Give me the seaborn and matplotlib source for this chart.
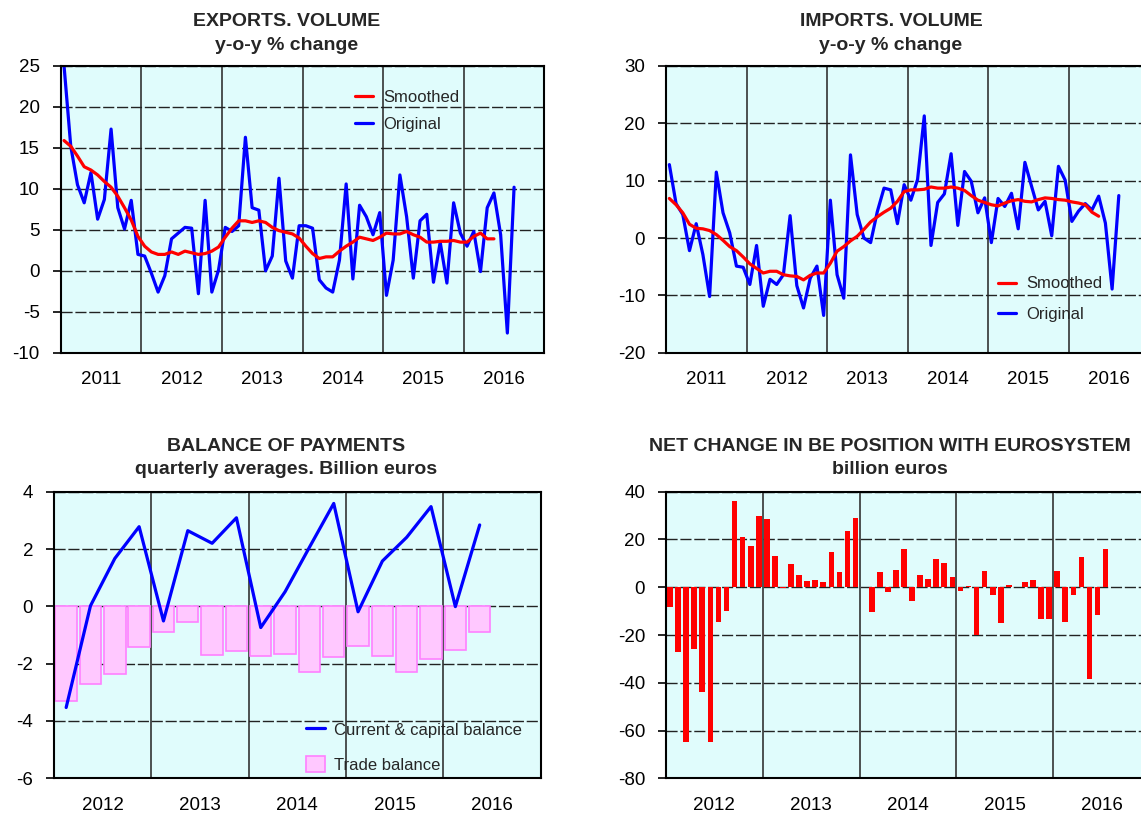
import numpy as np
import pandas as pd
import matplotlib
matplotlib.use("Agg")
import matplotlib.pyplot as plt
import seaborn as sns
from matplotlib.ticker import FixedLocator

# ---------------- data ----------------
exp_original = [25.0, 15.2, 10.5, 8.3, 12.0, 6.3, 8.7, 17.3, 7.7, 5.1, 8.6, 2.0,
                1.8, -0.3, -2.6, -0.6, 3.9, 4.6, 5.3, 5.2, -2.8, 8.6, -2.6, 0.1,
                5.3, 4.8, 5.5, 16.3, 7.7, 7.4, 0.0, 1.8, 11.3, 1.2, -0.9, 5.5,
                5.5, 5.2, -1.1, -2.1, -2.6, 1.3, 10.6, -1.0, 8.0, 6.6, 4.4, 7.1,
                -3.0, 1.3, 11.7, 6.6, -0.9, 6.1, 6.9, -1.4, 3.5, -1.5, 8.3, 4.6,
                3.0, 4.8, -0.1, 7.7, 9.5, 4.4, -7.6, 10.2]
exp_smoothed = [15.9, 15.2, 14.0, 12.7, 12.3, 11.7, 10.9, 10.2, 9.1, 7.7, 6.2, 4.2,
                3.0, 2.3, 2.0, 2.0, 2.3, 2.0, 2.4, 2.2, 2.0, 2.1, 2.4, 2.9,
                4.1, 5.2, 6.1, 6.1, 5.9, 6.1, 5.9, 5.3, 4.9, 4.7, 4.5, 4.0,
                3.0, 2.1, 1.5, 1.7, 1.7, 2.4, 3.0, 3.5, 4.1, 3.9, 3.7, 4.1,
                4.6, 4.5, 4.5, 4.8, 4.4, 4.1, 3.5, 3.5, 3.6, 3.6, 3.7, 3.5,
                3.5, 4.2, 4.6, 3.9, 3.9]
imp_original = [12.8, 6.0, 4.1, -2.2, 2.5, -2.9, -10.2, 11.5, 4.4, 0.9, -4.9, -5.1,
                -8.1, -1.3, -11.9, -7.2, -8.1, -6.4, 3.9, -8.3, -12.2, -7.0, -4.9, -13.5,
                6.6, -6.4, -10.5, 14.5, 4.1, 0.0, -0.8, 4.6, 8.7, 8.4, 2.5, 9.3,
                6.6, 10.2, 21.3, -1.3, 6.2, 7.7, 14.7, 2.2, 11.6, 9.9, 4.4, 7.0,
                -0.8, 6.9, 5.5, 7.8, 1.6, 13.2, 9.0, 4.9, 6.4, 0.4, 12.5, 10.1,
                2.9, 4.7, 6.0, 4.9, 7.3, 2.6, -8.9, 7.4]
imp_smoothed = [6.9, 5.8, 4.4, 2.4, 1.7, 1.6, 1.3, 0.6, -0.4, -1.5, -2.2, -3.3,
                -4.5, -5.3, -6.1, -5.8, -5.8, -6.4, -6.6, -6.7, -7.3, -6.5, -6.1, -6.1,
                -4.4, -2.3, -1.5, -0.5, 0.3, 1.5, 2.8, 3.7, 4.5, 5.2, 6.4, 8.1,
                8.4, 8.4, 8.5, 8.9, 8.7, 8.7, 8.9, 8.7, 8.3, 7.4, 6.6, 6.2,
                5.8, 5.6, 6.1, 6.5, 6.7, 6.4, 6.3, 6.7, 7.0, 6.9, 6.7, 6.6,
                6.3, 6.1, 5.8, 4.5, 3.8]
bop_current_capital = [-3.53, 0.02, 1.67, 2.78, -0.51, 2.64, 2.20, 3.09, -0.74,
                       0.51, 2.06, 3.59, -0.19, 1.58, 2.41, 3.48, -0.01, 2.84]
bop_trade = [-3.30, -2.72, -2.35, -1.43, -0.88, -0.55, -1.71, -1.57, -1.74,
             -1.67, -2.30, -1.76, -1.40, -1.74, -2.30, -1.85, -1.53, -0.90]
be_net_change = [-8.1, -27.3, -64.9, -25.8, -43.7, -65.0, -14.7, -9.9, 35.9, 21.1, 17.2, 29.7,
                 28.5, 13.1, -0.4, 9.9, 5.3, 2.5, 2.9, 2.0, 14.7, 6.3, 23.4, 28.9,
                 0.0, -10.2, 6.3, -2.2, 7.3, 15.9, -5.6, 5.3, 3.6, 11.9, 10.2, 4.2,
                 -1.4, 0.6, -20.2, 6.8, -3.2, -14.8, 1.1, 0.2, 2.0, 2.9, -13.5, -13.1,
                 6.7, -14.4, -3.1, 12.8, -38.5, -11.7, 15.9]

years_top = [2011, 2012, 2013, 2014, 2015, 2016]
years_bottom = [2012, 2013, 2014, 2015, 2016]
exp_ticks = [-10, -5, 0, 5, 10, 15, 20, 25]
imp_ticks = [-20, -10, 0, 10, 20, 30]
bop_ticks = [-6, -4, -2, 0, 2, 4]
be_ticks = [-80, -60, -40, -20, 0, 20, 40]


def month_x(start, n):
    return [start + (i + 0.5) / 12 for i in range(n)]


def quarter_x(start, n):
    return [start + (i + 0.5) / 4 for i in range(n)]


# ---------------- style ----------------
sns.set_style("white")
plt.rcParams['font.family'] = ['Liberation Sans', 'DejaVu Sans']
plt.rcParams['axes.unicode_minus'] = False

BG = '#E0FCFC'
BLUE = '#0000FF'
RED = '#FF0000'
W, H = 1141, 814

fig = plt.figure(figsize=(W / 100, H / 100), dpi=100)
fig.patch.set_facecolor('white')


def px_axes(left, top, right, bottom):
    return fig.add_axes([left / W, 1 - bottom / H, (right - left) / W, (bottom - top) / H])


def style(ax, years, yticks):
    x0, x1 = years[0], years[-1] + 1
    ax.set_facecolor(BG)
    ax.set_xlim(x0, x1)
    ax.set_ylim(yticks[0], yticks[-1])
    ax.yaxis.set_major_locator(FixedLocator(yticks))
    ax.set_yticklabels([f"{t:g}" for t in yticks])
    ax.xaxis.set_major_locator(FixedLocator([y + 0.5 for y in years]))
    ax.set_xticklabels([str(y) for y in years])
    ax.xaxis.set_minor_locator(FixedLocator(list(range(x0 + 1, x1))))
    ax.tick_params(axis='x', which='both', length=0, pad=13.5, labelsize=13.5, colors='black')
    ax.tick_params(axis='y', which='major', length=6, width=1.2, pad=9,
                   direction='out', labelsize=13.5, colors='black', left=True)
    ax.grid(False)
    ax.yaxis.grid(True, which='major', linestyle=(0, (8, 2)), color='#222222', linewidth=1)
    ax.xaxis.grid(True, which='minor', linestyle='-', color='#333333', linewidth=1.2)
    ax.set_axisbelow(True)
    for s in ax.spines.values():
        s.set_visible(True)
        s.set_color('black')
        s.set_linewidth(1.5)
    ax.set_xlabel('')
    ax.set_ylabel('')


def title(xc, y1, y2, t1, t2):
    fig.text(xc / W, 1 - y1 / H, t1, ha='center', va='center', fontsize=14, fontweight='bold')
    fig.text(xc / W, 1 - y2 / H, t2, ha='center', va='center', fontsize=14, fontweight='bold')


# ---------------- exports ----------------
ax1 = px_axes(60.7, 66, 544.3, 352.7)
sns.lineplot(x=month_x(2011, len(exp_original)), y=exp_original, ax=ax1,
             color=BLUE, linewidth=2.3, label='Original')
sns.lineplot(x=month_x(2011, len(exp_smoothed)), y=exp_smoothed, ax=ax1,
             color=RED, linewidth=2.3, label='Smoothed')
style(ax1, years_top, exp_ticks)
h, l = ax1.get_legend_handles_labels()
ax1.legend([h[1], h[0]], [l[1], l[0]], loc='upper left',
           bbox_to_anchor=((355 - 60.7) / 483.6, 1 - (89.5 - 66) / 286.7),
           frameon=False, fontsize=12, borderpad=0, borderaxespad=0,
           handlelength=1.1, handletextpad=0.6, labelspacing=0.72)
title(287, 22, 45, 'EXPORTS. VOLUME', 'y-o-y % change')

# ---------------- imports ----------------
ax2 = px_axes(666, 66, 1149, 352.7)
sns.lineplot(x=month_x(2011, len(imp_original)), y=imp_original, ax=ax2,
             color=BLUE, linewidth=2.3, label='Original')
sns.lineplot(x=month_x(2011, len(imp_smoothed)), y=imp_smoothed, ax=ax2,
             color=RED, linewidth=2.3, label='Smoothed')
style(ax2, years_top, imp_ticks)
h, l = ax2.get_legend_handles_labels()
ax2.legend([h[1], h[0]], [l[1], l[0]], loc='upper left',
           bbox_to_anchor=((998 - 666) / 483, 1 - (276.5 - 66) / 286.7),
           frameon=False, fontsize=12, borderpad=0, borderaxespad=0,
           handlelength=1.1, handletextpad=0.6, labelspacing=0.92)
title(891, 22, 45, 'IMPORTS. VOLUME', 'y-o-y % change')

# ---------------- balance of payments ----------------
ax3 = px_axes(54, 491.7, 540.5, 778.3)
bop_df = pd.DataFrame({'x': quarter_x(2012, len(bop_trade)), 'trade': bop_trade})
sns.barplot(data=bop_df, x='x', y='trade', native_scale=True, orient='x', ax=ax3,
            color='#FFC8FF', saturation=1, edgecolor='#FF80FF', linewidth=1.2,
            width=0.88, label='Trade balance', errorbar=None)
sns.lineplot(x=quarter_x(2012, len(bop_current_capital)), y=bop_current_capital, ax=ax3,
             color=BLUE, linewidth=2.3, label='Current & capital balance')
style(ax3, years_bottom, bop_ticks)
h, l = ax3.get_legend_handles_labels()
order = [l.index('Current & capital balance'), l.index('Trade balance')]
ax3.legend([h[i] for i in order], [l[i] for i in order], loc='upper left',
           bbox_to_anchor=((306 - 54) / 486.5, 1 - (721 - 491.7) / 286.7),
           frameon=False, fontsize=12, borderpad=0, borderaxespad=0,
           handlelength=1.15, handleheight=1.1, handletextpad=0.55, labelspacing=1.1)
title(286, 447, 470, 'BALANCE OF PAYMENTS', 'quarterly averages. Billion euros')

# ---------------- net change in BE position ----------------
ax4 = px_axes(666, 491.7, 1150, 778.3)
be_df = pd.DataFrame({'x': month_x(2012, len(be_net_change)), 'v': be_net_change})
sns.barplot(data=be_df, x='x', y='v', native_scale=True, orient='x', ax=ax4,
            color=RED, saturation=1, width=0.7, errorbar=None, linewidth=0)
style(ax4, years_bottom, be_ticks)
if ax4.get_legend() is not None:
    ax4.get_legend().remove()
title(890, 447, 470, 'NET CHANGE IN BE POSITION WITH EUROSYSTEM', 'billion euros')

fig.savefig('out.png', dpi=100, facecolor='white')
